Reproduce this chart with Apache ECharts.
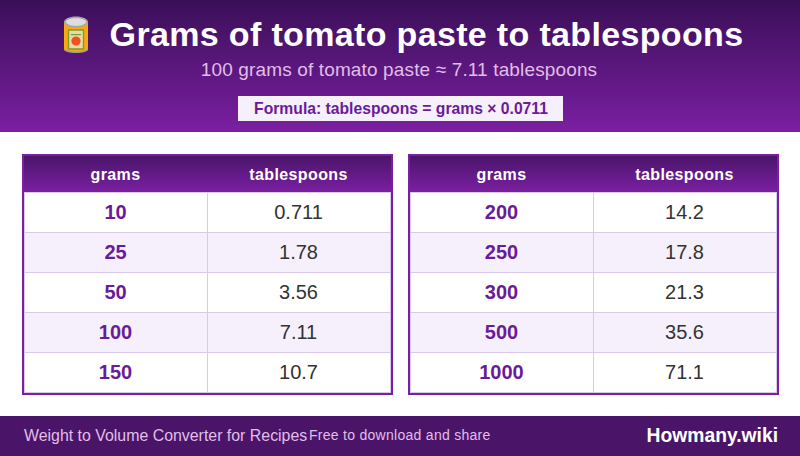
<!DOCTYPE html>
<html>
<head>
<meta charset="UTF-8">
<title>Grams of tomato paste to tablespoons</title>
<script src="https://cdn.jsdelivr.net/npm/echarts@6/dist/echarts.min.js"></script>
<style>
html, body { margin: 0; padding: 0; background: #fff; }
#main { width: 800px; height: 456px; }
#main text { font-kerning: none; }
#main text[style*="bold 34px"] { letter-spacing: 0.34px; }
#main text[style*="16px"] { letter-spacing: 0.4px; }
#main text[style*="19px"] { letter-spacing: 0.14px; }
#main text[style*="14px"] { letter-spacing: 0.28px; }
</style>
</head>
<body>
<div id="main"></div>
<script>
var columns = ['grams', 'tablespoons'];
var gramsLeft = ['10', '25', '50', '100', '150'];
var tbspLeft = ['0.711', '1.78', '3.56', '7.11', '10.7'];
var gramsRight = ['200', '250', '300', '500', '1000'];
var tbspRight = ['14.2', '17.8', '21.3', '35.6', '71.1'];
var titleText = 'Grams of tomato paste to tablespoons';
var subtitleText = '100 grams of tomato paste ≈ 7.11 tablespoons';
var formulaText = 'Formula: tablespoons = grams × 0.0711';
var footerLeft = 'Weight to Volume Converter for Recipes';
var footerMiddle = 'Free to download and share';
var footerBrand = 'Howmany.wiki';

var FONT = '"Liberation Sans", Arial, sans-serif';
var PURPLE = '#7b1fa2';
var LINE = '#d9c8ea';

function vgrad(a, b) {
    return { type: 'linear', x: 0, y: 0, x2: 0, y2: 1, colorStops: [{ offset: 0, color: a }, { offset: 1, color: b }] };
}

function rect(x, y, w, h, fill, z2) {
    return { type: 'rect', shape: { x: x, y: y, width: w, height: h }, style: { fill: fill }, silent: true, z2: z2 || 0 };
}

function label(text, x, y, font, fill, align) {
    return { type: 'text', x: x, y: y, style: { text: text, font: font, fill: fill, align: align || 'center', verticalAlign: 'middle' }, silent: true, z2: 5 };
}

// one custom series per table, cells come from the category axes
function tableSeries(index, grams, tbsp) {
    var data = [];
    for (var r = 0; r < grams.length; r++) {
        data.push([0, r]);
        data.push([1, r]);
    }
    return {
        type: 'custom',
        xAxisIndex: index,
        yAxisIndex: index,
        data: data,
        silent: true,
        renderItem: function (params, api) {
            var c = api.value(0), r = api.value(1);
            var p = api.coord([c, r]);
            var s = api.size([1, 1]);
            var x0 = p[0] - s[0] / 2, y0 = p[1] - s[1] / 2;
            var kids = [
                rect(x0, y0, s[0], s[1], r % 2 ? '#f5f0fb' : '#ffffff', 0),
                rect(x0, y0 + s[1], s[0] + 1, 1, LINE, 2),
                rect(x0 + s[0], y0, 1, s[1] + 1, LINE, 2)
            ];
            if (r === 0) kids.push(rect(x0, y0, s[0] + 1, 1, LINE, 2));
            if (c === 0) kids.push(rect(x0, y0, 1, s[1] + 1, LINE, 2));
            if (c === 0) {
                kids.push(label(grams[r], p[0], p[1] - 0.5, 'bold 20px ' + FONT, '#6a1b9a'));
            } else {
                kids.push(label(tbsp[r], p[0], p[1] - 0.5, '20px ' + FONT, '#333333'));
            }
            return { type: 'group', children: kids };
        }
    };
}

function xAxisFor(index) {
    return {
        type: 'category',
        gridIndex: index,
        position: 'top',
        data: columns,
        z: 5,
        axisLine: { show: false },
        axisTick: { show: false },
        splitLine: { show: false },
        axisLabel: { color: '#ffffff', fontFamily: FONT, fontWeight: 'bold', fontSize: 16, margin: 18, verticalAlign: 'middle' }
    };
}

function yAxisFor(index, grams) {
    return { type: 'category', gridIndex: index, inverse: true, data: grams, show: false };
}

var canParts = [
    { type: 'rect', shape: { x: 64, y: 21, width: 24, height: 30, r: 2 }, style: { fill: '#f9a90f' } },
    { type: 'ellipse', shape: { cx: 76, cy: 49.5, rx: 12, ry: 3.5 }, style: { fill: '#9e9e9e' } },
    { type: 'ellipse', shape: { cx: 76, cy: 48, rx: 12, ry: 3.5 }, style: { fill: '#f9a90f' } },
    { type: 'ellipse', shape: { cx: 76, cy: 22, rx: 12, ry: 5.5 }, style: { fill: '#a8a8a8' } },
    { type: 'ellipse', shape: { cx: 76, cy: 22, rx: 10, ry: 3.8 }, style: { fill: '#dedede' } },
    { type: 'rect', shape: { x: 68.5, y: 30, width: 15, height: 19 }, style: { fill: '#e4dca6', stroke: '#7d9b30', lineWidth: 1.4 } },
    { type: 'rect', shape: { x: 71, y: 34, width: 10, height: 1.2 }, style: { fill: '#7d9b30' } },
    { type: 'circle', shape: { cx: 76, cy: 41, r: 4.6 }, style: { fill: '#f4511e' } }
];

var graphics = [
    rect(0, 0, 800, 132, vgrad('#3a0f58', PURPLE)),
    rect(238, 96, 325, 25, '#f5f0fb'),
    rect(0, 416, 800, 40, '#4a1569'),
    rect(22, 154, 371, 241, PURPLE),
    rect(408, 154, 371, 241, PURPLE),
    rect(24, 156, 367, 36, vgrad('#4a1569', PURPLE)),
    rect(410, 156, 367, 36, vgrad('#4a1569', PURPLE)),
    { type: 'group', silent: true, children: canParts },
    label(titleText, 426.5, 34, 'bold 34px ' + FONT, '#ffffff'),
    label(subtitleText, 399, 69, '19px ' + FONT, '#e1bee7'),
    label(formulaText, 401, 108, 'bold 15.7px ' + FONT, '#6a1b9a'),
    label(footerLeft, 24, 435, '15.9px ' + FONT, '#e1bee7', 'left'),
    label(footerMiddle, 309, 435, '14px ' + FONT, '#e1bee7', 'left'),
    label(footerBrand, 778, 435, 'bold 19.3px ' + FONT, '#ffffff', 'right')
];

var chart = echarts.init(document.getElementById('main'), null, { renderer: 'svg' });
chart.setOption({
    animation: false,
    backgroundColor: '#ffffff',
    graphic: { elements: graphics },
    grid: [
        { left: 24, top: 192, width: 366, height: 200 },
        { left: 410, top: 192, width: 366, height: 200 }
    ],
    xAxis: [xAxisFor(0), xAxisFor(1)],
    yAxis: [yAxisFor(0, gramsLeft), yAxisFor(1, gramsRight)],
    series: [tableSeries(0, gramsLeft, tbspLeft), tableSeries(1, gramsRight, tbspRight)]
});
</script>
</body>
</html>
